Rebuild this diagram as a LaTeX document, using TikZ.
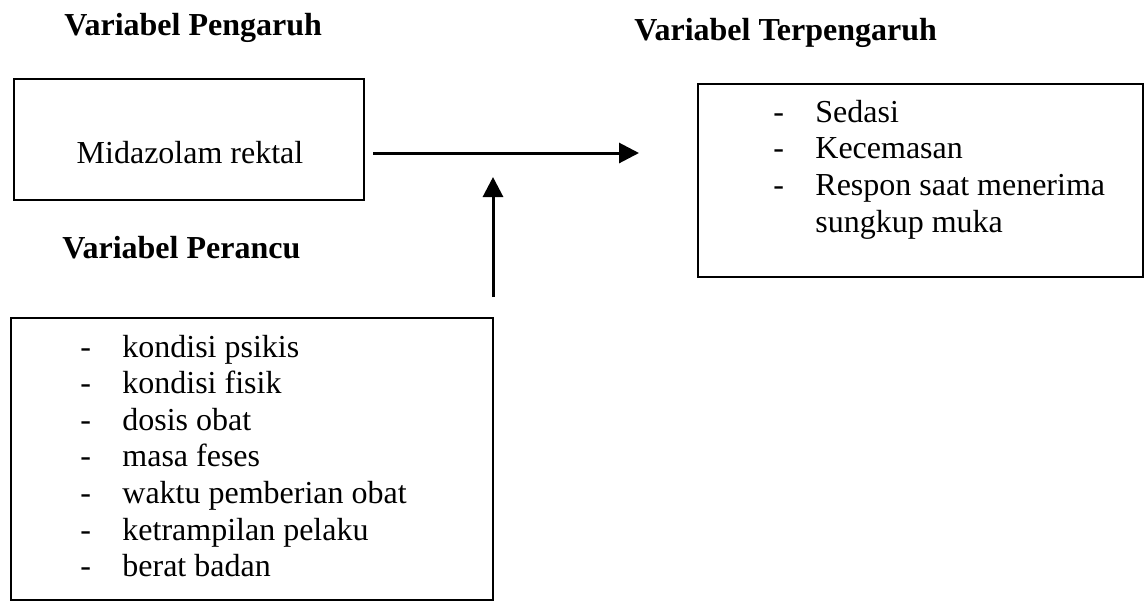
\documentclass[tikz,border=0pt]{standalone}
\usepackage{fontspec}
\setmainfont{Liberation Serif}
\usetikzlibrary{arrows.meta}

\tikzset{
  box/.style={draw, line width=1pt, inner sep=0pt, anchor=north west},
  title/.style={font=\fontsize{16}{19}\selectfont\bfseries, anchor=base west, inner sep=0pt},
  item/.style={font=\fontsize{16}{19}\selectfont, anchor=base west, inner sep=0pt},
  link/.style={line width=1.5pt, -{Triangle[length=10pt,width=10pt]}},
}

\begin{document}
\begin{tikzpicture}[x=0.5pt, y=-0.5pt]
  \useasboundingbox (0,0) rectangle (1147,601);

  % === TITLES ===
  \node[title] (tpengaruh)    at (64,35)  {Variabel Pengaruh};
  \node[title] (tterpengaruh) at (634,40) {Variabel Terpengaruh};
  \node[title] (tperancu)     at (62,258) {Variabel Perancu};

  % === BOXES ===
  \node[box, minimum width=175pt,   minimum height=60.5pt] (pengaruh)    at (13,78)  {};
  \node[box, minimum width=222.5pt, minimum height=96.5pt] (terpengaruh) at (697,83) {};
  \node[box, minimum width=241pt,   minimum height=141pt]  (perancu)     at (10,317) {};

  % === TEXTS ===
  \node[item, anchor=base] (midazolam) at (190,163) {Midazolam rektal};

  \foreach \t [count=\i] in {Sedasi, Kecemasan, Respon saat menerima} {
    \node[item] (odash\i) at (773,{85.3+36.7*\i}) {-};
    \node[item] (out\i)   at (815,{85.3+36.7*\i}) {\t};
  }
  \node[item] (out4) at (815,232) {sungkup muka};

  \foreach \t [count=\i] in {kondisi psikis, kondisi fisik, dosis obat, masa feses,
                             waktu pemberian obat, ketrampilan pelaku, berat badan} {
    \node[item] (cdash\i) at (80,{320.5+36.6*\i}) {-};
    \node[item] (conf\i)  at (122,{320.5+36.6*\i}) {\t};
  }

  % === ARROWS ===
  \coordinate (hstart) at (373,153);
  \coordinate (hend)   at (639,153);
  \coordinate (vstart) at (493,297);
  \coordinate (vend)   at (493,177);
  \draw[link] (hstart) -- (hend);
  \draw[link] (vstart) -- (vend);

\end{tikzpicture}
\end{document}
